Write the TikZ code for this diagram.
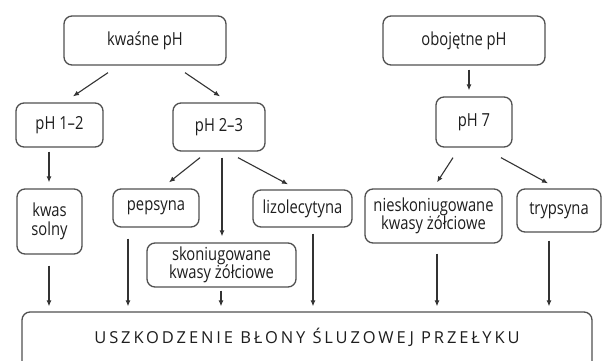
\documentclass[tikz,border=0pt]{standalone}
\usepackage{fontspec}
\setmainfont{Open Sans}[FakeStretch=0.82]
\newfontfamily\capsfont{Open Sans}[LetterSpace=17.5]
\usetikzlibrary{arrows.meta,calc}
\definecolor{boxline}{HTML}{505050}
\definecolor{arrline}{HTML}{333333}
\definecolor{txt}{HTML}{1E1E1E}
\tikzset{
  box/.style={draw=boxline, line width=1.3pt, rounded corners=8pt, align=center,
    text=txt, font=\fontsize{18}{18.5}\selectfont, inner sep=0pt},
  arr/.style={draw=arrline, line width=1.1pt, -{Latex[length=6pt,width=5pt]}},
}
\begin{document}
\begin{tikzpicture}[x=1pt,y=-1pt]
\clip (0,0) rectangle (602,361);
\fill[white] (0,0) rectangle (602,361);
% top level
\node[box, minimum width=162pt, minimum height=49pt] (kw) at (145,40.5) {kwaśne pH};
\node[box, minimum width=162pt, minimum height=49pt] (ob) at (464,40.5) {obojętne pH};
% second level
\node[box, minimum width=87pt, minimum height=44pt] (p12) at (59.5,125) {pH 1–2};
\node[box, minimum width=92pt, minimum height=48pt] (p23) at (219,127) {pH 2–3};
\node[box, minimum width=76pt, minimum height=50pt] (p7) at (474,122) {pH 7};
% third level
\node[box, minimum width=65pt, minimum height=65pt] (kwas) at (49.5,221.5) {kwas\\solny};
\node[box, minimum width=86pt, minimum height=38pt] (pep) at (156,208) {pepsyna};
\node[box, minimum width=99pt, minimum height=37pt] (lizo) at (302.5,208.5) {lizolecytyna};
\node[box, minimum width=149pt, minimum height=44pt] (skon) at (221.5,265) {skoniugowane\\kwasy żółciowe};
\node[box, minimum width=137pt, minimum height=54pt] (niesk) at (433.5,216) {nieskoniugowane\\kwasy żółciowe};
\node[box, minimum width=84pt, minimum height=43pt] (tryp) at (559,210.5) {trypsyna};
% bottom
\node[box, minimum width=570pt, minimum height=60pt, text height=12pt, text depth=9.4pt,
  font=\capsfont\fontsize{16.5}{18}\selectfont] (bot) at (307,342)
  {USZKODZENIE BŁONY ŚLUZOWEJ PRZEŁYKU};
% arrows level 1 -> 2
\draw[arr] ($(kw.south)+(-37,7)$) -- ($(p12.north)+(13.5,-6)$);
\draw[arr] ($(kw.south)+(40,7)$) -- ($(p23.north)+(1,-6)$);
\draw[arr] ($(ob.south)+(5,4)$) -- ($(p7.north)+(-5,-6)$);
% arrows level 2 -> 3
\draw[arr] ($(p12.south)+(-10.5,4)$) -- ($(kwas.north)+(-0.5,-6)$);
\draw[arr] ($(p23.south)+(-19,6)$) -- ($(pep.north)+(13,-6)$);
\draw[arr] ($(p23.south)+(3,6)$) -- ($(skon.north)+(0.5,-6)$);
\draw[arr] ($(p23.south)+(19,6)$) -- ($(lizo.north)+(-14.5,-5)$);
\draw[arr] ($(p7.south)+(-21,10)$) -- ($(niesk.north)+(3.5,-6)$);
\draw[arr] ($(p7.south)+(27,10)$) -- ($(tryp.north)+(-11,-5)$);
% arrows to bottom
\draw[arr] ($(kwas.south)+(-0.5,11)$) -- ($(bot.north)+(-258,-5)$);
\draw[arr] ($(pep.south)+(-28,11)$) -- ($(bot.north)+(-179,-5)$);
\draw[arr] ($(skon.south)+(-0.5,3)$) -- ($(bot.north)+(-86,-5)$);
\draw[arr] ($(lizo.south)+(10.5,6)$) -- ($(bot.north)+(6,-5)$);
\draw[arr] ($(niesk.south)+(3.5,10)$) -- ($(bot.north)+(130,-5)$);
\draw[arr] ($(tryp.south)+(-10,8)$) -- ($(bot.north)+(242,-5)$);
\end{tikzpicture}
\end{document}
